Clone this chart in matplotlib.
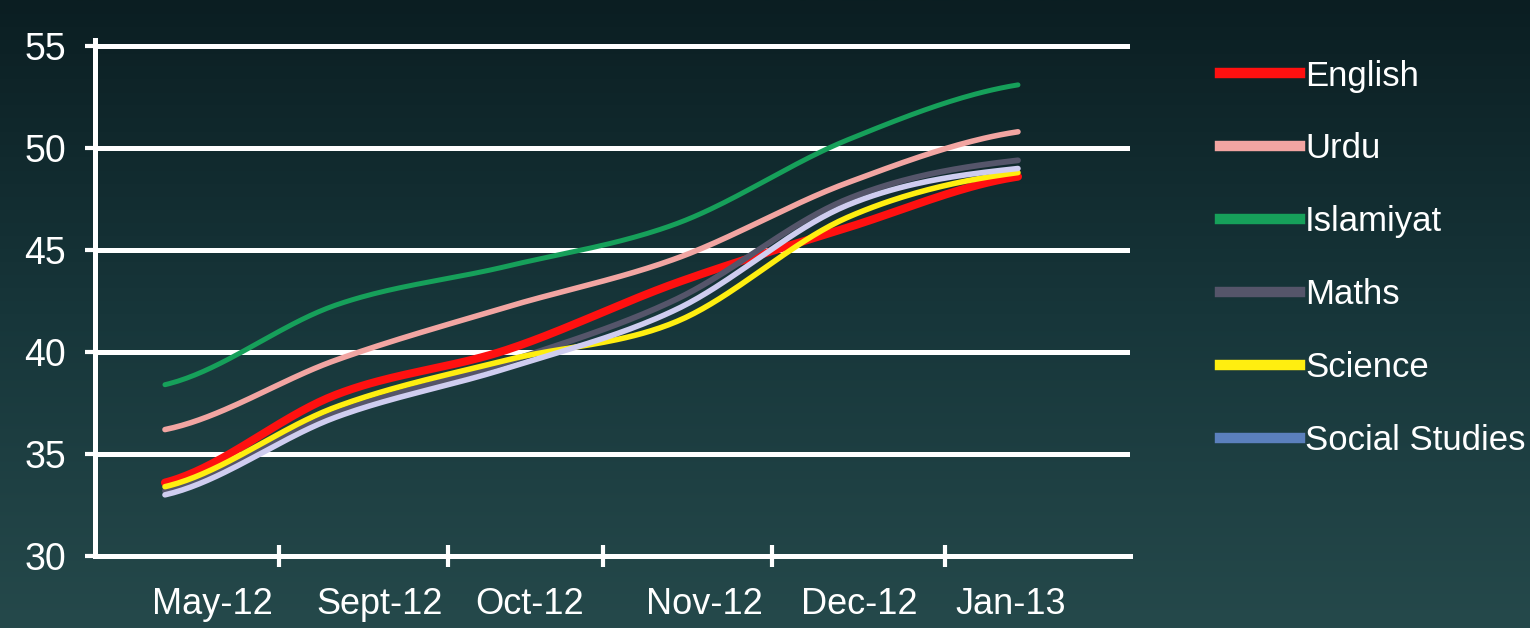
import numpy as np
import matplotlib.pyplot as plt
from matplotlib.colors import LinearSegmentedColormap

months = ["May-12", "Sept-12", "Oct-12", "Nov-12", "Dec-12", "Jan-13"]
subjects = ["English", "Urdu", "Islamiyat", "Maths", "Science", "Social Studies"]

english = [33.6, 37.9, 40.1, 43.4, 46.1, 48.6]
urdu = [36.2, 39.6, 42.2, 44.6, 48.3, 50.8]
islamiyat = [38.4, 42.3, 44.2, 46.3, 50.4, 53.1]
maths = [33.2, 37.0, 39.5, 42.6, 47.5, 49.4]
science = [33.4, 37.3, 39.6, 41.5, 46.6, 48.8]
social = [33.0, 36.8, 39.2, 42.1, 47.2, 49.0]

line_colors = ["#ff1010", "#f2a5a2", "#16a05a", "#55556a", "#ffee10", "#cfcdf0"]
legend_colors = ["#ff1010", "#f2a5a2", "#16a05a", "#55556a", "#ffee10", "#5b80bd"]
widths = [5.8, 4.0, 3.6, 4.2, 4.0, 4.0]

# label positions / tick-mark positions (the original axis is a bit uneven)
label_pos = [0.28, 1.26, 2.14, 3.16, 4.07, 4.96]
mark_pos = [0.67, 1.66, 2.57, 3.56, 4.57]


def smooth(y, n=40):
    # catmull-rom through the points, like excel's smoothed line
    y = np.asarray(y, dtype=float)
    p = np.concatenate([[y[0]], y, [y[-1]]])
    xs, ys = [], []
    for i in range(len(y) - 1):
        t = np.linspace(0, 1, n, endpoint=False)
        p0, p1, p2, p3 = p[i], p[i + 1], p[i + 2], p[i + 3]
        yy = 0.5 * ((2 * p1) + (-p0 + p2) * t + (2 * p0 - 5 * p1 + 4 * p2 - p3) * t ** 2
                    + (-p0 + 3 * p1 - 3 * p2 + p3) * t ** 3)
        xs.append(i + t)
        ys.append(yy)
    xs.append([len(y) - 1])
    ys.append([y[-1]])
    return np.concatenate(xs), np.concatenate(ys)


plt.rcParams['font.family'] = ['Liberation Sans', 'DejaVu Sans']

fig = plt.figure(figsize=(15.3, 6.28), dpi=100)

# background gradient
bg = fig.add_axes([0, 0, 1, 1], zorder=-1)
cmap = LinearSegmentedColormap.from_list("bg", ["#0b1e22", "#17363a", "#25494b"])
grad = np.linspace(0, 1, 256).reshape(-1, 1)
bg.imshow(grad, aspect="auto", cmap=cmap, extent=[0, 1, 0, 1])
bg.axis("off")

ax = fig.add_axes([0.0621, 0.1146, 0.6765, 0.8217])
ax.patch.set_alpha(0)

series = [english, urdu, islamiyat, maths, science, social]
for vals, c, lw in zip(series, line_colors, widths):
    sx, sy = smooth(vals)
    ax.plot(sx, sy, color=c, lw=lw, solid_capstyle="round", zorder=3)

ax.set_xlim(-0.41, 5.657)
ax.set_ylim(30, 55.3)

for v in [35, 40, 45, 50, 55]:
    ax.axhline(v, color="white", lw=3.6, zorder=1)

ax.set_yticks([30, 35, 40, 45, 50, 55])
ax.set_xticks(label_pos)
ax.set_xticklabels(months)
ax.set_xticks(mark_pos, minor=True)

ax.tick_params(axis="x", which="major", length=0, pad=22, labelsize=26, colors="white")
ax.tick_params(axis="x", which="minor", length=16, width=3, direction="inout", color="white")
ax.tick_params(axis="y", length=7, width=3, direction="out", pad=14, labelsize=27, colors="white")

for s in ["top", "right"]:
    ax.spines[s].set_visible(False)
for s in ["left", "bottom"]:
    ax.spines[s].set_color("white")
    ax.spines[s].set_linewidth(3.6)

handles = [plt.Line2D([], [], color=c, lw=7.5) for c in legend_colors]
fig.legend(handles, subjects, loc="upper left", bbox_to_anchor=(0.777, 0.955),
           frameon=False, fontsize=25, labelcolor="white", handlelength=2.3,
           handletextpad=0.15, labelspacing=1.15)

fig.savefig("out.png", dpi=100)
